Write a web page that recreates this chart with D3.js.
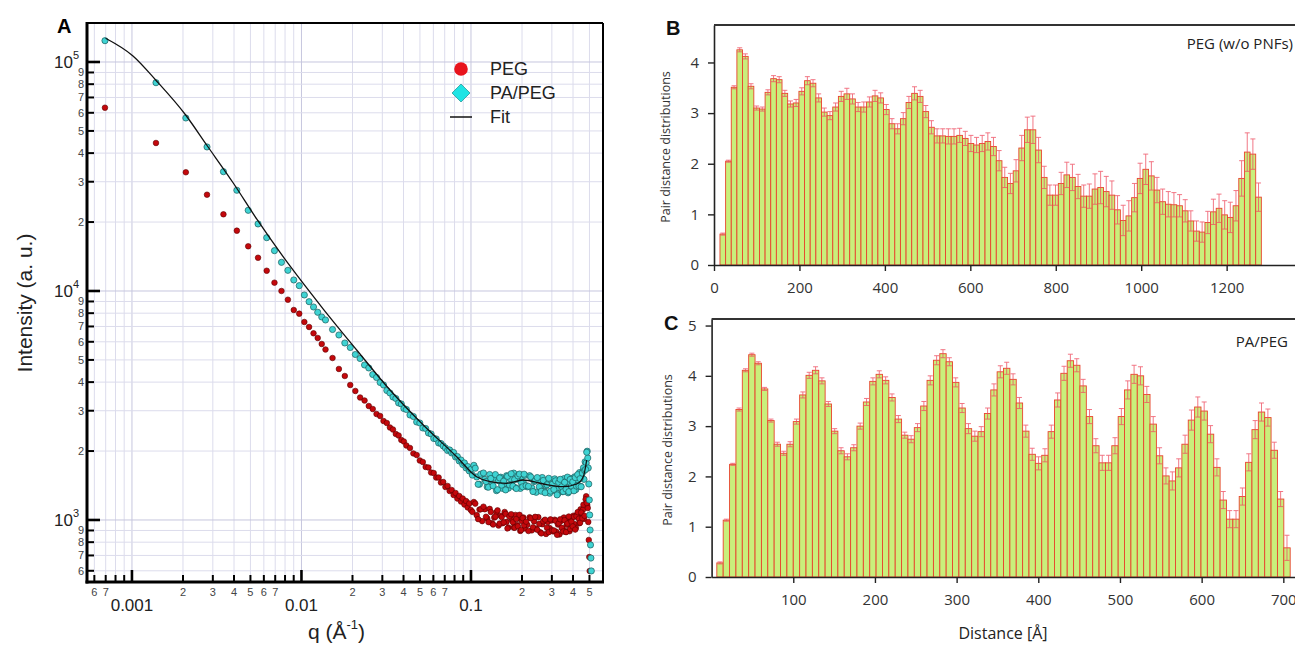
<!DOCTYPE html>
<html lang="en">
<head>
<meta charset="UTF-8">
<title>SAXS and pair distance distributions</title>
<script src="https://cdn.jsdelivr.net/npm/d3@7"></script>
<style>
  body { margin: 0; background: #fff; }
  svg { display: block; }
</style>
</head>
<body>
<svg id="fig" width="1295" height="646"></svg>
<script>
// ---- panel A: scattering curves (q in 1/Å, intensity in a.u.) ----
const q = [0.000693,0.001386,0.002079,0.002772,0.003465,0.004158,0.004851,0.005544,0.006237,0.00693,
  0.007623,0.008316,0.009009,0.009702,0.0104,0.01109,0.01178,0.01247,0.01317,0.01386,
  0.01525,0.01663,0.01802,0.0194,0.02079,0.02218,0.02356,0.02495,0.02633,0.02772,
  0.02911,0.03049,0.03188,0.03326,0.03465,0.03604,0.03742,0.03881,0.04019,0.04158,
  0.04366,0.04574,0.04782,0.0499,0.05198,0.05405,0.05613,0.05821,0.06029,0.06237,
  0.06445,0.06653,0.06861,0.07069,0.07277,0.07484,0.07692,0.079,0.08108,0.08316,
  0.08524,0.08732,0.0894,0.09148,0.09356,0.09563,0.09771,0.09979,
  0.104,0.1081,0.1123,0.1164,0.1206,0.1247,0.1289,0.1331,0.1372,0.1414,
  0.1455,0.1497,0.1538,0.158,0.1622,0.1663,0.1705,0.1746,0.1788,0.183,
  0.1871,0.1913,0.1954,0.1996,0.2037,0.2079,
  0.2148,0.2218,0.2287,0.2356,0.2426,0.2495,0.2564,0.2633,0.2703,0.2772,
  0.2841,0.2911,0.298,0.3049,0.3119,0.3188,0.3257,0.3326,0.3396,0.3465,
  0.3534,0.3604,0.3673,0.3742,0.3812,0.3881,0.395,0.4019,0.4089,0.4158,
  0.4227,0.4297,0.4366,0.4435,0.4505,0.4574,0.4643,0.4712,0.4782,0.4851,
  0.4886,0.492,0.4955,0.499,0.5017,0.5045,0.5073,0.51,0.5128,
  0.1019,0.106,0.1102,0.1143,0.1185,0.1227,0.1268,0.131,0.1351,0.1393,
  0.1435,0.1476,0.1518,0.1559,0.1601,0.1642,0.1684,0.1726,0.1767,0.1809,
  0.185,0.1892,0.1933,0.1975,0.2017,0.2058,
  0.2114,0.2183,0.2252,0.2322,0.2391,0.246,0.2529,0.2599,0.2668,0.2737,
  0.2807,0.2876,0.2945,0.3015,0.3084,0.3153,0.3222,0.3292,0.3361,0.343,
  0.35,0.3569,0.3638,0.3708,0.3777,0.3846,0.3915,0.3985,0.4054,0.4123,
  0.4193,0.4262,0.4331,0.4401,0.447,0.4539,0.4608,0.4678,0.4747,0.4816];

const intPEG = [63150,44290,32990,26330,21620,18340,15670,13970,12260,10870,
  10000,9163,8260,7961,7322,6963,6535,6235,5869,5553,
  5098,4565,4254,3886,3659,3427,3325,3146,3053,2903,
  2845,2706,2652,2535,2484,2374,2339,2236,2202,2115,
  2063,1952,1922,1819,1792,1704,1695,1612,1604,1533,
  1533,1458,1465,1394,1408,1339,1352,1286,1312,1241,
  1273,1204,1241,1169,1210,1134,1181,1106,
  1198,1050,1111,989,1114,1016,1118,968,1026,1082,
  946,1043,968,1084,981,927,1043,1000,927,1052,
  951,1016,896,990,1026,918,
  953,1028,901,986,917,1029,884,958,994,869,
  981,922,996,892,1003,888,956,865,990,918,
  1025,894,954,1014,893,992,927,1044,961,923,
  1055,1027,968,1114,1022,1108,1011,1170,1270,1162,
  1128,980,818,689,599,null,null,null,null,
  1085,1179,1009,1114,1143,1033,979,1084,956,1034,
  1101,964,1030,976,1063,919,1035,1060,978,925,
  1010,939,1053,904,1019,948,
  983,895,1018,929,1032,906,962,874,986,1003,
  925,885,1006,901,900,992,861,966,1007,925,
  890,998,885,965,1035,913,983,937,1032,908,
  1039,1082,1013,973,1078,1018,1166,1043,1231,1186];

const intPAPEG = [123900,81200,56940,42550,33190,27530,22510,19620,17090,15000,
  13340,12310,11170,10550,9605,8981,8514,8072,7700,7471,
  6790,6425,5928,5666,5281,5073,4752,4611,4319,4190,
  3985,3886,3677,3586,3445,3393,3243,3211,3068,3038,
  2874,2831,2679,2652,2522,2509,2398,2374,2270,2258,
  2169,2158,2105,2063,2011,2022,1962,1971,1884,1893,
  1810,1828,1747,1774,1687,1712,1637,1662,
  1733,1541,1432,1584,1504,1394,1580,1427,1524,1343,
  1485,1538,1374,1437,1561,1377,1515,1418,1602,1385,
  1509,1575,1374,1548,1453,1566,
  1395,1561,1379,1472,1321,1499,1379,1533,1331,1413,
  1495,1309,1447,1346,1512,1370,1302,1475,1424,1329,
  1515,1377,1480,1314,1459,1519,1366,1427,1544,1358,
  1496,1412,1610,1403,1544,1632,1505,1795,1774,1997,
  1865,1687,1436,1223,1052,904,778,682,599,
  1571,1683,1432,1586,1604,1471,1391,1518,1409,1579,
  1356,1526,1419,1478,1353,1550,1424,1592,1406,1501,
  1372,1557,1587,1461,1396,1584,
  1413,1404,1542,1331,1483,1532,1397,1335,1488,1315,
  1425,1521,1336,1431,1359,1483,1287,1458,1505,1398,
  1330,1461,1364,1539,1329,1504,1406,1468,1341,1531,
  1405,1578,1407,1515,1397,1603,1691,1646,1662,1976];

const fitQ = [0.000699,0.001014,0.00138,0.002074,0.002759,0.003959,0.005441,0.008553,0.01345,0.02117,
  0.03328,0.05232,0.08233,0.108,0.1295,0.1624,0.2035,0.267,0.3503,0.4204,0.4598,0.4816];
const fitI = [126900,106200,83450,58690,43400,29620,20630,12860,8340,5526,
  3695,2599,1889,1545,1470,1446,1495,1436,1398,1436,1545,1828];

const qMajorTicks = [0.001, 0.01, 0.1];
const qMinorLabels = [0.0006,0.0007,0.002,0.003,0.004,0.005,0.006,0.007,0.02,0.03,0.04,0.05,0.06,0.07,0.2,0.3,0.4,0.5];
const iMajorTicks = [1e3, 1e4, 1e5];
const iMinorLabels = [600,700,800,900,2000,3000,4000,5000,6000,7000,8000,9000,
  20000,30000,40000,50000,60000,70000,80000,90000];
const legendNames = ["PEG", "PA/PEG", "Fit"];

// ---- panels B and C: pair distance distributions (distance in Å) ----
const binStartB = 14, binWidthB = 13.2;
const pdB = [0.61,2.05,3.51,4.25,4.12,3.53,3.10,3.08,3.41,3.68,
  3.66,3.39,3.18,3.20,3.43,3.64,3.59,3.30,3.02,2.95,
  3.12,3.33,3.38,3.28,3.12,3.12,3.22,3.34,3.30,3.07,
  2.79,2.69,2.89,3.21,3.39,3.33,3.03,2.72,2.55,2.55,
  2.54,2.54,2.56,2.50,2.40,2.37,2.40,2.44,2.34,2.06,
  1.73,1.61,1.86,2.31,2.67,2.67,2.27,1.73,1.38,1.38,
  1.61,1.78,1.73,1.55,1.36,1.36,1.50,1.53,1.45,1.38,
  1.09,0.88,0.97,1.33,1.71,1.89,1.76,1.48,1.25,1.20,
  1.19,1.17,1.07,0.87,0.67,0.65,0.84,1.05,1.12,0.99,
  0.94,1.17,1.71,2.23,2.19,1.34];
const errB = [0.02,0.02,0.03,0.04,0.05,0.05,0.04,0.04,0.05,0.06,
  0.06,0.06,0.06,0.07,0.07,0.08,0.07,0.08,0.08,0.08,
  0.08,0.10,0.11,0.10,0.09,0.10,0.10,0.11,0.10,0.10,
  0.10,0.10,0.12,0.12,0.13,0.12,0.12,0.13,0.14,0.14,
  0.15,0.15,0.14,0.14,0.16,0.15,0.16,0.17,0.18,0.20,
  0.20,0.20,0.22,0.25,0.25,0.27,0.25,0.22,0.20,0.20,
  0.22,0.25,0.26,0.24,0.22,0.24,0.30,0.32,0.30,0.28,
  0.28,0.30,0.30,0.28,0.30,0.30,0.28,0.25,0.25,0.25,
  0.24,0.22,0.22,0.20,0.20,0.20,0.22,0.25,0.28,0.28,
  0.30,0.30,0.35,0.38,0.30,0.28];

const binStartC = 6.4, binWidthC = 7.8;
const pdC = [0.28,1.13,2.24,3.33,4.11,4.42,4.25,3.74,3.11,2.64,
  2.46,2.64,3.09,3.62,4.01,4.11,3.90,3.44,2.90,2.51,
  2.39,2.57,3.00,3.48,3.89,4.03,3.91,3.57,3.14,2.82,
  2.74,2.97,3.40,3.91,4.31,4.44,4.28,3.87,3.36,2.95,
  2.80,2.89,3.25,3.72,4.08,4.15,3.93,3.46,2.90,2.44,
  2.26,2.42,2.89,3.52,4.05,4.30,4.21,3.80,3.19,2.61,
  2.27,2.27,2.61,3.19,3.72,4.03,4.00,3.63,3.04,2.41,
  2.01,1.91,2.17,2.64,3.12,3.38,3.30,2.84,2.18,1.53,
  1.15,1.15,1.60,2.28,2.93,3.28,3.17,2.52,1.55,0.58];
const errC = [0.02,0.02,0.02,0.03,0.03,0.03,0.03,0.03,0.03,0.04,
  0.04,0.05,0.05,0.06,0.06,0.07,0.06,0.05,0.05,0.06,
  0.06,0.06,0.06,0.07,0.07,0.07,0.07,0.07,0.07,0.06,
  0.07,0.08,0.09,0.09,0.09,0.08,0.08,0.09,0.09,0.10,
  0.10,0.10,0.11,0.12,0.12,0.12,0.11,0.11,0.12,0.12,
  0.13,0.13,0.13,0.14,0.14,0.13,0.13,0.13,0.14,0.14,
  0.15,0.15,0.16,0.16,0.18,0.18,0.18,0.16,0.15,0.16,
  0.16,0.18,0.18,0.18,0.20,0.20,0.18,0.17,0.17,0.17,
  0.17,0.17,0.17,0.17,0.18,0.18,0.17,0.16,0.15,0.25];
const ticksB = [0, 200, 400, 600, 800, 1000, 1200];
const ticksC = [100, 200, 300, 400, 500, 600, 700];

const FA = "'Liberation Sans', Arial, sans-serif";
const FB = "'Open Sans', 'DejaVu Sans', sans-serif";

const svg = d3.select("#fig");

// ================= panel A =================
const A = {l: 87, r: 603, t: 23, b: 582};
const xA = d3.scaleLog().domain([0.000543, 0.601]).range([A.l, A.r]);
const yA = d3.scaleLog().domain([536, 148000]).range([A.b, A.t]);
const isDecade = v => Math.abs(Math.log10(v) - Math.round(Math.log10(v))) < 1e-6;
const lead = v => Math.round(v / Math.pow(10, Math.floor(Math.log10(v) + 1e-9)));

const gA = svg.append("g");
const xTicks = xA.ticks().filter(v => v < 0.55);
const yTicks = yA.ticks();

// grid
gA.append("g").selectAll("line").data(xTicks).join("line")
  .attr("x1", d => xA(d)).attr("x2", d => xA(d))
  .attr("y1", A.t).attr("y2", A.b)
  .attr("stroke", d => isDecade(d) ? "#c6c6de" : "#dcdcec").attr("stroke-width", 1);
gA.append("g").selectAll("line").data(yTicks).join("line")
  .attr("y1", d => yA(d)).attr("y2", d => yA(d))
  .attr("x1", A.l).attr("x2", A.r)
  .attr("stroke", d => isDecade(d) ? "#c6c6de" : "#dcdcec").attr("stroke-width", 1);

// data
const pegPts = q.map((v, i) => [v, intPEG[i]]).filter(d => d[1] != null);
const paPts = q.map((v, i) => [v, intPAPEG[i]]).filter(d => d[1] != null);

gA.append("g").selectAll("circle").data(pegPts).join("circle")
  .attr("cx", d => xA(d[0])).attr("cy", d => yA(d[1])).attr("r", 2.8)
  .attr("fill", "#c4080c").attr("stroke", "#5c0000").attr("stroke-width", 0.6);
gA.append("g").selectAll("circle").data(paPts).join("circle")
  .attr("cx", d => xA(d[0])).attr("cy", d => yA(d[1])).attr("r", 3.1)
  .attr("fill", "#3fd3d3").attr("stroke", "#1c5c5c").attr("stroke-width", 0.7);

const fitLine = d3.line().x(d => xA(d[0])).y(d => yA(d[1])).curve(d3.curveMonotoneX);
gA.append("path").datum(fitQ.map((v, i) => [v, fitI[i]]))
  .attr("d", fitLine).attr("fill", "none").attr("stroke", "#111").attr("stroke-width", 1.3);

// frame
gA.append("line").attr("x1", A.l).attr("x2", A.r).attr("y1", A.t).attr("y2", A.t).attr("stroke", "#000").attr("stroke-width", 2);
gA.append("line").attr("x1", A.r).attr("x2", A.r).attr("y1", A.t).attr("y2", A.b).attr("stroke", "#000").attr("stroke-width", 2);
gA.append("line").attr("x1", A.l).attr("x2", A.l).attr("y1", A.t - 1).attr("y2", A.b + 1.5).attr("stroke", "#000").attr("stroke-width", 3);
gA.append("line").attr("x1", A.l - 1.5).attr("x2", A.r + 1).attr("y1", A.b).attr("y2", A.b).attr("stroke", "#000").attr("stroke-width", 3);

// inward ticks
gA.append("g").selectAll("line").data(yTicks).join("line")
  .attr("x1", A.l).attr("x2", d => A.l + (isDecade(d) ? 13 : 7))
  .attr("y1", d => yA(d)).attr("y2", d => yA(d))
  .attr("stroke", "#000").attr("stroke-width", d => isDecade(d) ? 2.6 : 2);
gA.append("g").selectAll("line").data(xTicks).join("line")
  .attr("y1", A.b).attr("y2", d => A.b - (isDecade(d) ? 12 : 7))
  .attr("x1", d => xA(d)).attr("x2", d => xA(d))
  .attr("stroke", "#000").attr("stroke-width", d => isDecade(d) ? 2.6 : 2);

// tick labels
gA.append("g").selectAll("text").data(iMinorLabels).join("text")
  .attr("x", A.l - 3).attr("y", d => yA(d) + 4)
  .attr("text-anchor", "end").attr("font-family", FA).attr("font-size", 11).attr("fill", "#444")
  .text(d => lead(d));
iMajorTicks.forEach(v => {
  const t = gA.append("text").attr("x", A.l - 8).attr("y", yA(v) + 6)
    .attr("text-anchor", "end").attr("font-family", FA).attr("fill", "#222");
  t.append("tspan").attr("font-size", 17).text("10");
  t.append("tspan").attr("font-size", 11).attr("dy", -9).text(Math.round(Math.log10(v)));
});
gA.append("g").selectAll("text").data(qMinorLabels).join("text")
  .attr("x", d => xA(d)).attr("y", A.b + 14)
  .attr("text-anchor", "middle").attr("font-family", FA).attr("font-size", 11).attr("fill", "#444")
  .text(d => lead(d));
gA.append("g").selectAll("text").data(qMajorTicks).join("text")
  .attr("x", d => xA(d)).attr("y", A.b + 29)
  .attr("text-anchor", "middle").attr("font-family", FA).attr("font-size", 17).attr("fill", "#222")
  .text(d => String(d));

// axis titles
gA.append("text").attr("transform", "translate(32,303) rotate(-90)")
  .attr("text-anchor", "middle").attr("font-family", FA).attr("font-size", 21).attr("fill", "#222")
  .text("Intensity (a. u.)");
const qt = gA.append("text").attr("x", 308).attr("y", 639)
  .attr("font-family", FA).attr("font-size", 21).attr("fill", "#222");
qt.append("tspan").text("q (Å");
qt.append("tspan").attr("font-size", 13).attr("dy", -10).text("-1");
qt.append("tspan").attr("dy", 10).text(")");

// legend
const lg = gA.append("g");
lg.append("circle").attr("cx", 461).attr("cy", 69).attr("r", 6.8).attr("fill", "#e8141c");
lg.append("path").attr("d", "M461,84 L470,93 L461,102 L452,93 Z")
  .attr("fill", "#1fe4e4").attr("stroke", "#2a9c9c").attr("stroke-width", 0.8);
lg.append("line").attr("x1", 450).attr("x2", 472).attr("y1", 117).attr("y2", 117)
  .attr("stroke", "#111").attr("stroke-width", 1.5);
lg.selectAll("text").data(legendNames).join("text")
  .attr("x", 490).attr("y", (d, i) => 75 + i * 24)
  .attr("font-family", FA).attr("font-size", 18).attr("fill", "#222").text(d => d);

svg.append("text").attr("x", 57).attr("y", 33).attr("font-family", FA)
  .attr("font-weight", "bold").attr("font-size", 20).text("A");

// ================= panels B and C =================
function histPanel(o) {
  const g = svg.append("g");
  const x = d3.scaleLinear().domain(o.xDom).range([o.l, 1295]);
  const y = d3.scaleLinear().domain(o.yDom).range([o.b, o.t]);

  g.append("g").selectAll("rect").data(o.vals).join("rect")
    .attr("x", (d, i) => x(o.start + i * o.width))
    .attr("width", (d, i) => x(o.start + (i + 1) * o.width) - x(o.start + i * o.width))
    .attr("y", d => y(d)).attr("height", d => y(0) - y(d))
    .attr("fill", "#c9ef7b").attr("stroke", "#e8432d").attr("stroke-width", 0.9);

  const eb = g.append("g").attr("stroke", "#ee4f62").attr("stroke-width", 0.9).attr("opacity", 0.85);
  o.vals.forEach((v, i) => {
    const cx = x(o.start + (i + 0.5) * o.width);
    const e = o.errs[i];
    eb.append("line").attr("x1", cx).attr("x2", cx).attr("y1", y(v - e)).attr("y2", y(v + e));
    eb.append("line").attr("x1", cx - 2.5).attr("x2", cx + 2.5).attr("y1", y(v + e)).attr("y2", y(v + e));
    eb.append("line").attr("x1", cx - 2.5).attr("x2", cx + 2.5).attr("y1", y(v - e)).attr("y2", y(v - e));
  });

  const fmt = d3.format("d");
  const ax = g.append("g").attr("transform", `translate(0,${o.b})`)
    .call(d3.axisBottom(x).tickValues(o.xTicks).tickFormat(fmt).tickSize(6).tickSizeOuter(0).tickPadding(11));
  const ay = g.append("g").attr("transform", `translate(${o.l},0)`)
    .call(d3.axisLeft(y).tickValues(o.yTicks).tickFormat(fmt).tickSize(6).tickSizeOuter(0).tickPadding(9));
  [ax, ay].forEach(a => {
    a.attr("font-family", FB).attr("font-size", 15);
    a.select(".domain").attr("stroke", "#222").attr("stroke-width", 1.6);
    a.selectAll(".tick line").attr("stroke", "#222").attr("stroke-width", 1.4);
    a.selectAll(".tick text").attr("fill", "#333");
  });
  g.append("line").attr("x1", o.l).attr("x2", 1295).attr("y1", o.t).attr("y2", o.t)
    .attr("stroke", "#333").attr("stroke-width", 1.8);

  g.append("text").attr("transform", `translate(${o.yTitleX},${(o.t + o.b) / 2 + 2}) rotate(-90)`)
    .attr("text-anchor", "middle").attr("font-family", FB).attr("font-size", 12.5).attr("fill", "#333")
    .text("Pair distance distributions");
  g.append("text").attr("x", o.nameX).attr("y", o.nameY).attr("text-anchor", "end")
    .attr("font-family", FB).attr("font-size", 15).attr("fill", "#222").text(o.name);
  g.append("text").attr("x", o.letterX).attr("y", o.letterY).attr("font-family", FA)
    .attr("font-weight", "bold").attr("font-size", 20).attr("fill", "#111").text(o.letter);
  return {x, y, g};
}

histPanel({l: 714, t: 25, b: 265, xDom: [0, 1360], yDom: [0, 4.74],
  vals: pdB, errs: errB, start: binStartB, width: binWidthB,
  xTicks: ticksB, yTicks: [0, 1, 2, 3, 4], yTitleX: 670,
  name: "PEG (w/o PNFs)", nameX: 1293, nameY: 49, letter: "B", letterX: 666, letterY: 35});

const pc = histPanel({l: 711.6, t: 319, b: 577, xDom: [0, 714.3], yDom: [0, 5.13],
  vals: pdC, errs: errC, start: binStartC, width: binWidthC,
  xTicks: ticksC, yTicks: [0, 1, 2, 3, 4, 5], yTitleX: 672,
  name: "PA/PEG", nameX: 1288, nameY: 347, letter: "C", letterX: 664, letterY: 330});

pc.g.append("text").attr("x", 1003).attr("y", 639).attr("text-anchor", "middle")
  .attr("font-family", FB).attr("font-size", 16).attr("fill", "#222").text("Distance [Å]");
</script>
</body>
</html>
